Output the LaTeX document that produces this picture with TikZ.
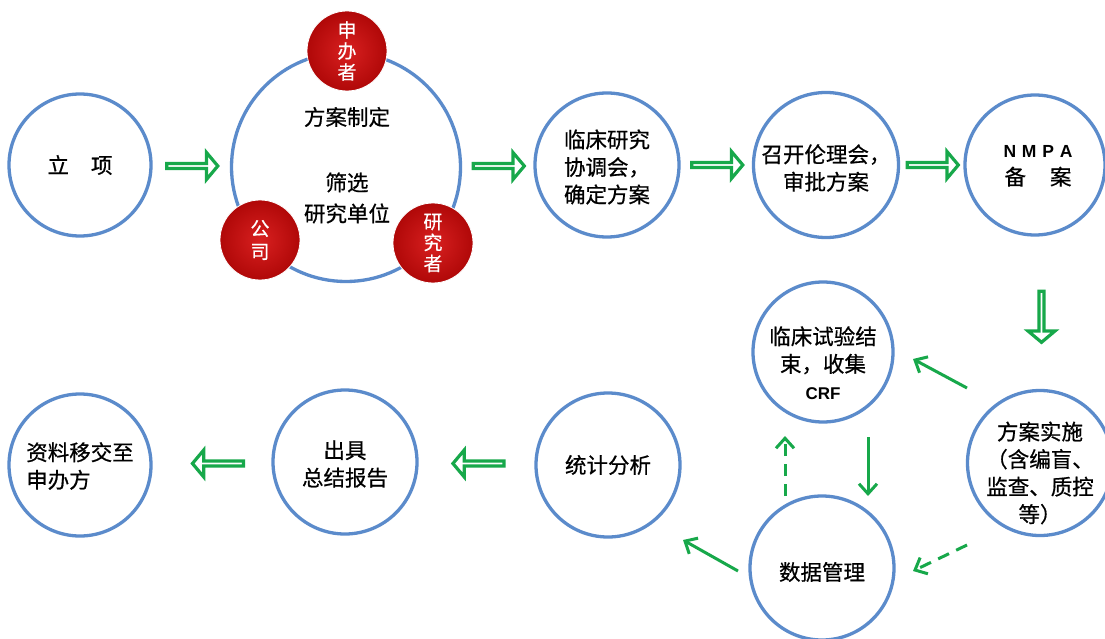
\documentclass[tikz,border=0pt]{standalone}
\usepackage{fontspec}
\setmainfont{Noto Sans CJK SC}
\newfontfamily\cjkh{Noto Sans CJK SC}[FakeBold=0.6]
\newfontfamily\latinb{Liberation Sans}
\usetikzlibrary{arrows.meta,shapes.arrows,calc}
\definecolor{ringblue}{HTML}{5B8BCB}
\definecolor{flowgreen}{HTML}{17A84A}
\definecolor{dred}{HTML}{B00808}
\definecolor{lred}{HTML}{D82020}
\tikzset{
  stage/.style={circle, draw=ringblue, line width=3.3pt, fill=white, minimum size=#1, inner sep=0pt, align=center,
    font=\cjkh\fontsize{21.5}{27.5}\selectfont},
  stage/.default=142pt,
  txt/.style={align=center, font=\cjkh\fontsize{21.5}{27.5}\selectfont, inner sep=0pt},
  role/.style={circle, draw=white, line width=0.8pt, shading=radial, inner color=lred, outer color=dred,
    minimum size=80pt, inner sep=0pt, align=center, text=white, font=\cjkh\fontsize{19}{24}\selectfont},
  blockarrow/.style={single arrow, draw=flowgreen, line width=3.2pt, fill=white, inner sep=0pt,
    minimum height=51pt, minimum width=27pt, single arrow head extend=7pt, single arrow head indent=0pt,
    single arrow tip angle=100},
  flow/.style={draw=flowgreen, line width=3pt, -{Straight Barb[length=10pt,width=18pt,line width=3pt]}},
  dflow/.style={flow, dash pattern=on 12pt off 8pt}
}
\begin{document}
\begin{tikzpicture}[x=1pt,y=-1pt]
\useasboundingbox (0,0) rectangle (1105,639);
\fill[white] (0,0) rectangle (1105,639);
% top row
\node[stage] (lx) at (80,165) {立\hspace{22pt}项};
\node[stage=229pt] (big) at (346,167) {};
\node[txt] (fa) at (347,117) {方案制定};
\node[txt, font=\cjkh\fontsize{21.5}{31}\selectfont] (sx) at (347,198) {筛选\\研究单位};
\node[role] (sb) at (347,51) {申\\[-3pt]办\\[-3pt]者};
\node[role] (gs) at (260,240) {公\\[-1pt]司};
\node[role] (yj) at (433,243) {研\\[-3pt]究\\[-3pt]者};
\node[stage=144pt] (xt) at (607,165) {};
\node[txt] (xtt) at ($(xt.center)+(0,2)$) {临床研究\\协调会，\\确定方案};
\node[stage=145pt] (ll) at (826,165) {};
\node[txt] (llt) at ($(ll.center)+(0,3)$) {召开伦理会，\\审批方案};
\node[stage=140pt] (nm) at (1035,165) {};
\node[txt] (nmt) at ($(nm.center)+(3,1)$) {{\latinb\bfseries\fontsize{17.5}{20}\selectfont N\,\,M\,\,P\,\,A}\\备\hspace{24pt}案};
% right side
\node[stage=145pt] (ss) at (1040,463) {};
\node[txt] (sst) at ($(ss.center)+(0,10)$) {方案实施\\（含编盲、\\监查、质控\\等）};
\node[stage=140pt] (js) at (823,352) {};
\node[txt] (jst) at ($(js.center)+(0,11)$) {临床试验结\\束，收集\\{\latinb\bfseries\fontsize{17}{20}\selectfont CRF}};
\node[stage=144pt] (sj) at (822,568) {};
\node[txt] (sjt) at ($(sj.center)+(0,4)$) {数据管理};
% bottom row
\node[stage=144pt] (tj) at (608,465) {统计分析};
\node[stage=144pt] (cj) at (345,462) {};
\node[txt] (cjt) at ($(cj.center)+(0,2)$) {出具\\总结报告};
\node[stage=142pt] (zl) at (80,465) {};
\node[txt, align=left] (zlt) at ($(zl.center)+(0,1)$) {资料移交至\\申办方};
% block arrows
\node[blockarrow] (b1) at ($(lx.east)!0.5!(big.west)$) {};
\node[blockarrow] (b2) at ($(big.east)!0.5!(xt.west)$) {};
\node[blockarrow] (b3) at ($(xt.east)!0.5!(ll.west)$) {};
\node[blockarrow] (b4) at ($(ll.east)!0.5!(nm.west)$) {};
\node[blockarrow, shape border rotate=270] (b5) at ($(nm.south)!0.5!(ss.north)+(4,3)$) {};
\node[blockarrow, shape border rotate=180] (b6) at ($(tj.west)!0.5!(cj.east)+(3,0)$) {};
\node[blockarrow, shape border rotate=180] (b7) at ($(cj.west)!0.5!(zl.east)+(7,0)$) {};
% thin arrows
\coordinate (a1s) at (967,388); \coordinate (a1e) at (913,359);
\draw[flow] (a1s) -- (a1e);
\coordinate (a2s) at (868,437); \coordinate (a2e) at (868,496);
\draw[flow] (a2s) -- (a2e);
\coordinate (a3s) at (785,496); \coordinate (a3e) at (785,436);
\draw[dflow] (a3s) -- (a3e);
\coordinate (a4s) at (967,545); \coordinate (a4e) at (913,571);
\draw[dflow] (a4s) -- (a4e);
\coordinate (a5s) at (738,571); \coordinate (a5e) at (683,540);
\draw[flow] (a5s) -- (a5e);
\end{tikzpicture}
\end{document}
